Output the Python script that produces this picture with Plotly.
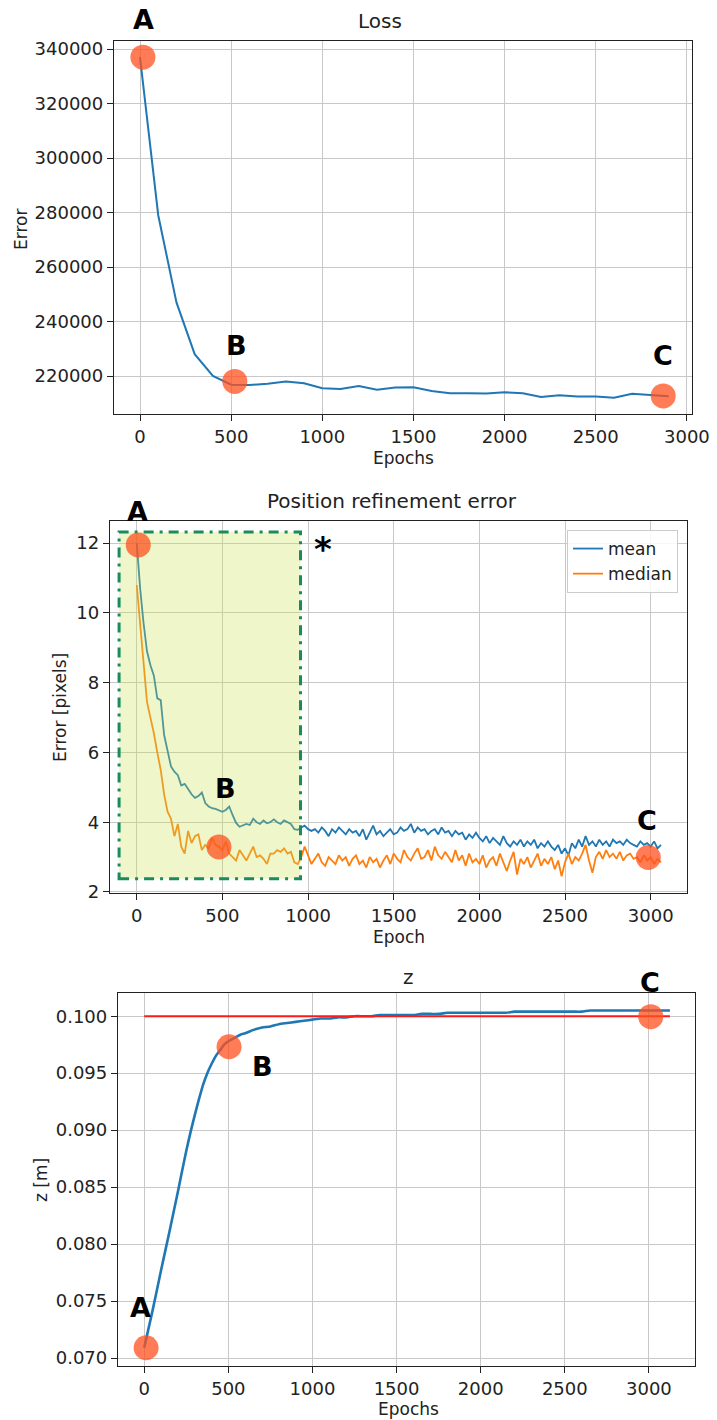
import plotly.graph_objects as go

W, H = 717, 1420

# ---------------- data ----------------
# Panel 1: Loss
loss_epochs = [0, 100, 200, 300, 400, 500, 600, 700, 800, 900,
               1000, 1100, 1200, 1300, 1400, 1500, 1600, 1700, 1800, 1900,
               2000, 2100, 2200, 2300, 2400, 2500, 2600, 2700, 2800, 2900]
loss_values = [337000, 279000, 247000, 228000, 220000, 216800, 216700, 217200, 218000, 217300,
               215500, 215200, 216300, 215000, 215800, 215900, 214500, 213700, 213700, 213600,
               214000, 213700, 212300, 212900, 212500, 212500, 212000, 213500, 213000, 212600]
loss_pt_epoch = [16, 520, 2870]
loss_pt_value = [337000, 218000, 212700]

# Panel 2: Position refinement error
pos_epochs = list(range(0, 3061, 20))
pos_mean = [
    12.0, 10.7, 9.7, 8.9, 8.5, 8.2, 7.55, 7.5, 6.5, 6.0,
    5.6, 5.45, 5.35, 5.05, 5.1, 4.95, 4.8, 4.7, 4.75, 4.85,
    4.55, 4.45, 4.4, 4.38, 4.35, 4.3, 4.35, 4.45, 4.2, 3.98,
    3.87, 3.9, 3.95, 3.92, 4.1, 4.0, 3.95, 4.05, 3.97, 4.0,
    4.08, 4.0, 3.95, 4.05, 4.0, 3.95, 3.8, 3.78, 3.85, 3.9,
    3.8, 3.75, 3.8, 3.7, 3.85, 3.75, 3.6, 3.8, 3.7, 3.85,
    3.75, 3.65, 3.8, 3.7, 3.75, 3.6, 3.8, 3.5, 3.7, 3.9,
    3.65, 3.75, 3.6, 3.7, 3.8, 3.65, 3.7, 3.85, 3.75, 3.8,
    3.95, 3.7, 3.85, 3.75, 3.8, 3.65, 3.75, 3.8, 3.65, 3.85,
    3.7, 3.75, 3.6, 3.75, 3.65, 3.7, 3.5, 3.65, 3.55, 3.7,
    3.55, 3.45, 3.6, 3.4, 3.55, 3.45, 3.35, 3.6, 3.4, 3.3,
    3.45, 3.35, 3.5, 3.3, 3.45, 3.35, 3.5, 3.25, 3.4, 3.3,
    3.45, 3.3, 3.2, 3.35, 3.1, 3.25, 3.05, 3.4, 3.25, 3.5,
    3.3, 3.6, 3.35, 3.45, 3.3, 3.5, 3.35, 3.45, 3.3, 3.5,
    3.4, 3.45, 3.35, 3.5, 3.4, 3.35, 3.3, 3.45, 3.35, 3.4,
    3.3, 3.45, 3.25, 3.35]
pos_median = [
    10.8, 9.7, 8.65, 7.45, 7.0, 6.55, 6.0, 5.5, 4.8, 4.3,
    4.1, 3.6, 3.95, 3.3, 3.1, 3.75, 3.4, 3.6, 3.65, 3.2,
    3.35, 3.25, 3.55, 3.35, 3.3, 3.2, 3.45, 3.1, 3.0, 2.9,
    3.2, 3.05, 2.9, 3.1, 3.3, 3.0, 3.05, 2.95, 2.8, 3.1,
    3.1, 3.2, 3.15, 3.25, 3.1, 3.15, 2.85, 2.8, 3.0, 3.3,
    3.05, 2.8, 2.95, 3.1, 2.85, 2.75, 3.0, 2.9, 2.8, 3.05,
    2.9, 3.0, 2.75, 2.95, 3.05, 2.8, 2.9, 2.7, 3.0, 2.85,
    2.95, 2.7, 2.9, 3.05, 2.8, 3.1, 2.95, 2.85, 3.2, 3.0,
    2.9, 3.1, 3.25, 2.95, 3.0, 3.2, 2.9, 3.3, 3.05, 2.95,
    3.15, 3.0, 2.85, 3.2, 2.9, 3.05, 2.75, 3.1, 2.85, 2.95,
    2.8, 3.05, 2.7, 2.9, 3.0, 2.75, 3.1, 2.85, 2.6, 2.9,
    3.15, 2.5, 2.95, 2.8, 3.0, 2.7, 2.9, 3.1, 2.75, 2.95,
    2.8, 3.0, 2.65, 2.9, 2.45, 2.85, 3.1, 2.8, 3.0, 2.9,
    3.1, 3.35, 2.9, 2.55, 3.0, 3.15, 2.95, 3.2, 3.0, 3.1,
    2.95, 3.15, 2.9, 3.05, 3.1, 2.95, 3.0, 2.85, 3.05, 2.9,
    3.0, 2.8, 2.95, 2.85]
pos_pt_epoch = [9, 480, 2986]
pos_pt_value = [11.95, 3.29, 2.99]
box_epoch = [-103, 956]
box_value = [2.38, 12.32]

# Panel 3: z
z_epochs = (list(range(0, 250, 50)) + list(range(250, 600, 25))
            + list(range(600, 3101, 50)) + [3125])
z_values = [
    0.0709, 0.0742, 0.0777, 0.0811, 0.0846,
    0.0882, 0.0898, 0.0913, 0.0927, 0.0940, 0.0950, 0.0958, 0.0965, 0.0970,
    0.0975, 0.0978, 0.0980, 0.0982, 0.0984,
    0.0985, 0.0988, 0.0990, 0.0991, 0.0993, 0.0994, 0.0995, 0.0996,
    0.0997, 0.0998, 0.0998, 0.0999, 0.0999, 0.1000, 0.1000, 0.1000, 0.1001, 0.1001,
    0.1001, 0.1001, 0.1001, 0.1002, 0.1002, 0.1002, 0.1003, 0.1003, 0.1003, 0.1003,
    0.1003, 0.1003, 0.1003, 0.1003, 0.1004, 0.1004, 0.1004, 0.1004, 0.1004, 0.1004,
    0.1004, 0.1004, 0.1004, 0.1005, 0.1005, 0.1005, 0.1005, 0.1005, 0.1005, 0.1005,
    0.1005, 0.1005, 0.1005, 0.1005]
z_target_epoch = [0, 3125]
z_target_value = [0.1, 0.1]
z_pt_epoch = [11, 504, 3011]
z_pt_value = [0.0709, 0.09732, 0.09996]

letters = ["A", "B", "C"]

# ---------------- style / layout positions (pixels) ----------------
FONT = "DejaVu Sans"
BLUE = "#1f77b4"
ORANGE = "#ff7f0e"
MARK = "rgba(255,80,30,0.75)"
MS = 25

letter_px = [
    [(143, 20), (236, 345), (663, 355)],
    [(137, 512), (225, 788), (647, 820)],
    [(140, 1307), (262, 1066), (650, 982)],
]
star_px = (323, 549)


def dom_x(l, r):
    return [l / W, r / W]


def dom_y(t, b):
    return [1 - b / H, 1 - t / H]


fig = go.Figure()

# Panel 1
fig.add_trace(go.Scatter(x=loss_epochs, y=loss_values, mode="lines",
                         line=dict(color=BLUE, width=2), showlegend=False,
                         xaxis="x", yaxis="y"))
fig.add_trace(go.Scatter(x=loss_pt_epoch, y=loss_pt_value, mode="markers",
                         marker=dict(size=MS, color=MARK, line=dict(width=0)),
                         showlegend=False, xaxis="x", yaxis="y"))

# Panel 2
fig.add_trace(go.Scatter(x=pos_epochs, y=pos_mean, mode="lines", name="mean",
                         line=dict(color=BLUE, width=1.8), xaxis="x2", yaxis="y2"))
fig.add_trace(go.Scatter(x=pos_epochs, y=pos_median, mode="lines", name="median",
                         line=dict(color=ORANGE, width=1.8), xaxis="x2", yaxis="y2"))

# Panel 3
fig.add_trace(go.Scatter(x=z_epochs, y=z_values, mode="lines",
                         line=dict(color=BLUE, width=2.6, shape="spline", smoothing=0.6),
                         showlegend=False, xaxis="x3", yaxis="y3"))
fig.add_trace(go.Scatter(x=z_target_epoch, y=z_target_value, mode="lines",
                         line=dict(color="#ff1a1a", width=2), showlegend=False,
                         xaxis="x3", yaxis="y3"))
fig.add_trace(go.Scatter(x=z_pt_epoch, y=z_pt_value, mode="markers",
                         marker=dict(size=MS, color=MARK, line=dict(width=0)),
                         showlegend=False, xaxis="x3", yaxis="y3"))

shapes = [
    dict(type="rect", xref="x2", yref="y2", x0=box_epoch[0], x1=box_epoch[1],
         y0=box_value[0], y1=box_value[1], fillcolor="rgba(200,225,80,0.3)",
         line=dict(width=0), layer="above"),
    dict(type="rect", xref="x2", yref="y2", x0=box_epoch[0], x1=box_epoch[1],
         y0=box_value[0], y1=box_value[1], fillcolor="rgba(0,0,0,0)",
         line=dict(color="#1b8a5f", width=3, dash="10px,6px,3px,6px"), layer="above"),
]
for ex, ev in zip(pos_pt_epoch, pos_pt_value):
    shapes.append(dict(type="circle", xref="x2", yref="y2", xsizemode="pixel",
                       ysizemode="pixel", xanchor=ex, yanchor=ev,
                       x0=-MS / 2, x1=MS / 2, y0=-MS / 2, y1=MS / 2,
                       fillcolor=MARK, line=dict(width=0), layer="above"))

ann = []
letter_font = dict(family=FONT, size=27, color="black", weight="bold")
for panel in letter_px:
    for t, (px, py) in zip(letters, panel):
        ann.append(dict(text=t, x=px / W, y=1 - py / H, xref="paper", yref="paper",
                        showarrow=False, xanchor="center", yanchor="middle",
                        font=letter_font))
ann.append(dict(text="*", x=star_px[0] / W, y=1 - star_px[1] / H, xref="paper",
                yref="paper", showarrow=False, xanchor="center", yanchor="middle",
                font=dict(family=FONT, size=34, color="black", weight="bold")))

title_font = dict(family=FONT, size=20, color="#222")
label_font = dict(family=FONT, size=17, color="#222")
for text, px, py, f, ang in [
    ("Loss", 380, 21, title_font, 0),
    ("Position refinement error", 392, 501, title_font, 0),
    ("z", 408, 977, title_font, 0),
    ("Epochs", 403, 458, label_font, 0),
    ("Epoch", 399, 937, label_font, 0),
    ("Epochs", 408, 1409, label_font, 0),
    ("Error", 21, 230, label_font, -90),
    ("Error [pixels]", 60, 708, label_font, -90),
    ("z [m]", 41, 1180, label_font, -90),
]:
    ann.append(dict(text=text, x=px / W, y=1 - py / H, xref="paper", yref="paper",
                    showarrow=False, xanchor="center", yanchor="middle",
                    font=f, textangle=ang))

axis_common = dict(showline=True, mirror=True, linecolor="#222", linewidth=1.3,
                   ticks="outside", ticklen=6, tickwidth=1.3, tickcolor="#222",
                   showgrid=True, gridcolor="#c8c8c8", gridwidth=1, zeroline=False,
                   automargin=False,
                   tickfont=dict(family=FONT, size=18, color="#222"))

fig.update_layout(
    width=W, height=H,
    autosize=False,
    margin=dict(l=0, r=0, t=0, b=0, pad=0, autoexpand=False),
    paper_bgcolor="white", plot_bgcolor="white",
    font=dict(family=FONT, size=17, color="#222"),
    xaxis=dict(domain=dom_x(114, 692), anchor="y", range=[-142.6, 3028],
               tickvals=[0, 500, 1000, 1500, 2000, 2500, 3000], **axis_common),
    yaxis=dict(domain=dom_y(41, 414), anchor="x", range=[206055, 342936],
               tickvals=[220000, 240000, 260000, 280000, 300000, 320000, 340000],
               tickformat="d", **axis_common),
    xaxis2=dict(domain=dom_x(110, 687), anchor="y2", range=[-156, 3212],
                tickvals=[0, 500, 1000, 1500, 2000, 2500, 3000], **axis_common),
    yaxis2=dict(domain=dom_y(521, 893), anchor="x2", range=[1.97, 12.636],
                tickvals=[2, 4, 6, 8, 10, 12], **axis_common),
    xaxis3=dict(domain=dom_x(118, 695), anchor="y3", range=[-156, 3274],
                tickvals=[0, 500, 1000, 1500, 2000, 2500, 3000], **axis_common),
    yaxis3=dict(domain=dom_y(993, 1366), anchor="x3", range=[0.069298, 0.102036],
                tickvals=[0.070, 0.075, 0.080, 0.085, 0.090, 0.095, 0.100],
                tickformat=".3f", **axis_common),
    legend=dict(x=678 / W, y=1 - 530 / H, xanchor="right", yanchor="top",
                bgcolor="rgba(255,255,255,0.85)", bordercolor="#cccccc", borderwidth=1,
                font=dict(family=FONT, size=17, color="#222")),
    shapes=shapes,
    annotations=ann,
)

fig.write_html(
    "out.html",
    post_script="document.body.style.margin='0';document.body.style.padding='0';"
                "document.documentElement.style.overflow='hidden';",
)
